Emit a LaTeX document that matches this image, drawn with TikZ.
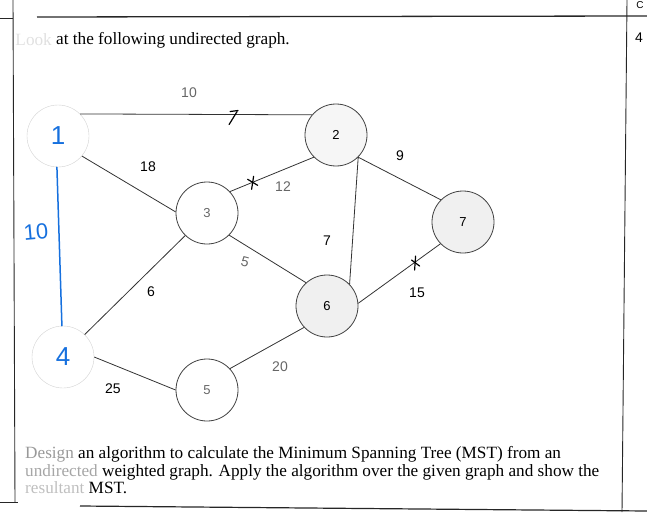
\documentclass[tikz,border=0pt]{standalone}
\usepackage{fontspec}
\setmainfont{Liberation Serif}
\setsansfont{Liberation Sans}
\usepackage{tikz}
\usetikzlibrary{positioning}
\usepackage{xcolor}
\definecolor{penc}{RGB}{22,112,222}
\definecolor{lightc}{RGB}{246,246,246}
\definecolor{greyc}{RGB}{240,240,240}
\tikzset{
  vtx/.style={draw=black!75, circle, minimum size=62pt, inner sep=0pt, line width=0.8pt, font=\sffamily\fontsize{13}{13}\selectfont},
  litvtx/.style={vtx, fill=lightc},
  gryvtx/.style={vtx, fill=greyc},
  penvtx/.style={draw=black!18, circle, minimum size=62pt, inner sep=0pt, font=\sffamily\fontsize{26}{26}\selectfont, text=penc},
  edge/.style={draw=black!80, line width=0.8pt},
  pen/.style={draw=penc, line width=1.5pt, line cap=round},
  tickmark/.style={draw=black, line width=1.2pt, line cap=round},
  wlabel/.style={font=\sffamily\fontsize{14}{14}\selectfont},
  fadelabel/.style={wlabel, text=black!60},
  rule/.style={draw=black!85, line width=0.9pt},
  body/.style={font=\fontsize{17.2}{17.8}\selectfont, align=left, inner sep=0pt}
}

\begin{document}
\begin{tikzpicture}[x=1pt, y=-1pt]
  \useasboundingbox (0,0) rectangle (647,524);

  % table rules
  \draw[rule] (0,18) -- (13,18);
  \draw[rule, line width=1.3pt] (37,17) -- (647,16);
  \draw[rule] (13,0) -- (15,502);
  \draw[rule] (0,502) -- (18,502);
  \draw[rule] (627,0) -- (622,512);
  \draw[rule, line width=1.2pt] (80,506) -- (647,511);
  \node[font=\sffamily\fontsize{14}{14}\selectfont] (qnum) at (639,38) {4};
  \node[font=\sffamily\fontsize{10}{10}\selectfont, anchor=north, inner sep=0pt] (qcol) at (640,1) {C};

  % question text
  \node[body, anchor=west] (intro) at (56,40) {at the following undirected graph.};
  \node[body, anchor=east, text=black!12] (introhead) at ([xshift=-4pt]intro.west) {Look};

  % vertices
  \node[penvtx] (n1) at (58,136) {1};
  \node[litvtx] (n2) at (336,135) {2};
  \node[vtx, text=black!60] (n3) at (207,213) {3};
  \node[penvtx] (n4) at (63,357) {4};
  \node[vtx, text=black!60] (n5) at (207,390) {5};
  \node[gryvtx] (n6) at (327,306) {6};
  \node[gryvtx] (n7) at (463,222) {7};

  % edges
  \draw[edge] (n1.45) -- (n2.140);
  \draw[edge] (n1.320) -- (n3.178);
  \draw[edge] (n3.43) -- (n2.225);
  \draw[edge] (n3.315) -- (n6.132);
  \draw[edge] (n3.226) -- (n4.46);
  \draw[edge] (n2.315) -- (n7.135);
  \draw[edge] (n2.315) -- (n6.44);
  \draw[edge] (n6.5) -- (n7.224);
  \draw[edge] (n4.0) -- (n5.180);
  \draw[edge] (n5.43) -- (n6.223);
  \draw[pen] (n1.268) -- (n4.92);

  % weights
  \node[fadelabel] (w12) at (189,93) {10};
  \node[wlabel] (w13) at (148,167) {18};
  \node[fadelabel] (w23) at (283,187) {12};
  \node[fadelabel, rotate=-15] (w36) at (245,262) {5};
  \node[wlabel] (w34) at (151,292) {6};
  \node[wlabel] (w26) at (327,241) {7};
  \node[wlabel] (w27) at (400,156) {9};
  \node[wlabel] (w67) at (417,293) {15};
  \node[wlabel] (w45) at (113,389) {25};
  \node[fadelabel] (w56) at (280,367) {20};
  \node[font=\sffamily\fontsize{22}{22}\selectfont, text=penc, rotate=5] (w14) at (36,232) {10};

  % hand ticks
  \path (n1.45) -- (n2.140) coordinate[pos=0.66] (m12);
  \path (n3.43) -- (n2.225) coordinate[pos=0.27] (m23);
  \path (n6.5) -- (n7.224) coordinate[pos=0.71] (m67);
  \draw[tickmark] ([shift={(-3,-3)}]m12) -- ([shift={(5,-4)}]m12);
  \draw[tickmark] ([shift={(4,-3)}]m12) -- ([shift={(-4,10)}]m12);
  \draw[tickmark] ([shift={(1,-6)}]m23) -- ([shift={(-1,7)}]m23);
  \draw[tickmark] ([shift={(-5,-3)}]m23) -- ([shift={(5,3)}]m23);
  \draw[tickmark] ([shift={(-1,-5)}]m67) -- ([shift={(-2,9)}]m67);
  \draw[tickmark] ([shift={(-5,-1)}]m67) -- ([shift={(3,5)}]m67);

  % task text
  \node[body, anchor=north west] (task) at (25,446) {\textcolor{black!40}{Design} an algorithm to calculate the Minimum Spanning Tree (MST) from an\\
    \textcolor{black!35}{undirected} weighted graph. Apply the algorithm over the given graph and show the\\
    \textcolor{black!25}{resultant} MST.};
\end{tikzpicture}
\end{document}
